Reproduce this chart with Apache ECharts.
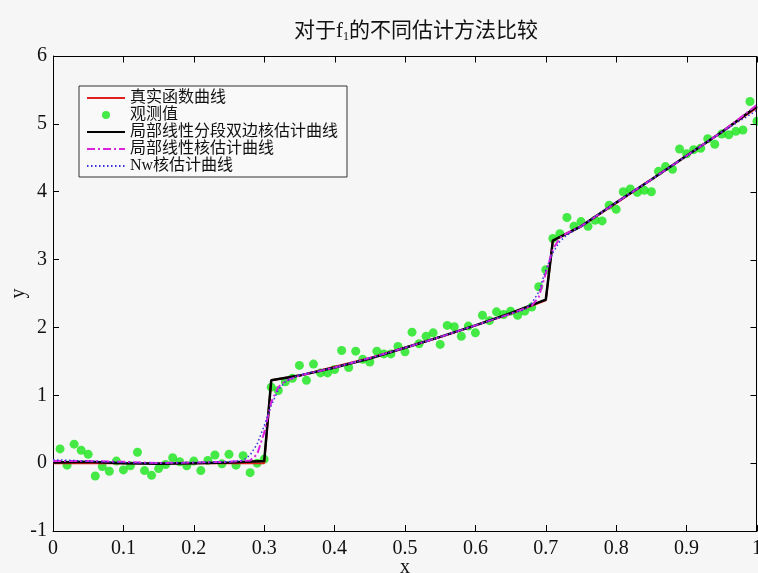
<!DOCTYPE html>
<html>
<head>
<meta charset="utf-8">
<script src="https://cdn.jsdelivr.net/npm/echarts@6/dist/echarts.min.js"></script>
<style>
  html, body { margin: 0; padding: 0; background: #f6f6f6; }
  #chart { width: 758px; height: 573px; }
</style>
</head>
<body>
<div id="chart"></div>
<script>
// Observation grid and noisy observations
const obsX = [0.01,0.02,0.03,0.04,0.05,0.06,0.07,0.08,0.09,0.10,
              0.11,0.12,0.13,0.14,0.15,0.16,0.17,0.18,0.19,0.20,
              0.21,0.22,0.23,0.24,0.25,0.26,0.27,0.28,0.29,0.30,
              0.31,0.32,0.33,0.34,0.35,0.36,0.37,0.38,0.39,0.40,
              0.41,0.42,0.43,0.44,0.45,0.46,0.47,0.48,0.49,0.50,
              0.51,0.52,0.53,0.54,0.55,0.56,0.57,0.58,0.59,0.60,
              0.61,0.62,0.63,0.64,0.65,0.66,0.67,0.68,0.69,0.70,
              0.71,0.72,0.73,0.74,0.75,0.76,0.77,0.78,0.79,0.80,
              0.81,0.82,0.83,0.84,0.85,0.86,0.87,0.88,0.89,0.90,
              0.91,0.92,0.93,0.94,0.95,0.96,0.97,0.98,0.99,1.00];
const obsY = [0.21,-0.03,0.28,0.19,0.13,-0.19,-0.05,-0.12,0.03,-0.10,
              -0.04,0.16,-0.11,-0.18,-0.08,-0.02,0.08,0.02,-0.04,0.03,
              -0.11,0.04,0.12,-0.01,0.13,-0.03,0.11,-0.14,0.00,0.06,
              1.12,1.07,1.20,1.25,1.44,1.22,1.46,1.33,1.33,1.38,
              1.66,1.41,1.65,1.53,1.49,1.65,1.61,1.61,1.72,1.64,
              1.93,1.76,1.87,1.92,1.75,2.03,2.01,1.87,2.02,1.92,
              2.18,2.10,2.23,2.19,2.24,2.18,2.24,2.30,2.60,2.85,
              3.31,3.38,3.62,3.49,3.56,3.49,3.58,3.57,3.80,3.74,
              4.00,4.04,3.99,4.02,4.00,4.30,4.37,4.33,4.63,4.56,
              4.62,4.64,4.78,4.70,4.85,4.84,4.89,4.91,5.33,5.04];

// True regression function
const trueX = [0,0.30,0.31,0.35,0.40,0.45,0.50,0.55,0.60,0.65,0.70,0.71,0.75,0.80,0.85,0.90,0.95,1.00];
const trueY = [0,0,1.22,1.29,1.42,1.55,1.70,1.86,2.03,2.20,2.40,3.28,3.49,3.83,4.18,4.53,4.88,5.24];

// Piecewise local linear two-sided kernel estimate
const bilX = [0,0.05,0.10,0.15,0.20,0.25,0.30,0.31,0.35,0.40,0.45,0.50,0.55,0.60,0.65,0.70,0.71,0.75,0.80,0.85,0.90,0.95,1.00];
const bilY = [0.01,0.02,0.00,-0.01,0.00,0.01,0.03,1.22,1.29,1.41,1.54,1.70,1.86,2.03,2.21,2.41,3.28,3.49,3.84,4.18,4.53,4.88,5.26];

// Local linear kernel estimate
const llX = [0,0.05,0.10,0.15,0.20,0.25,0.28,0.29,0.30,0.31,0.32,0.33,0.35,0.40,0.45,0.50,0.55,0.60,0.65,0.68,0.69,0.70,0.71,0.72,0.73,0.75,0.80,0.85,0.90,0.95,1.00];
const llY = [0.03,0.03,0.02,0.00,0.01,0.02,0.04,0.13,0.45,0.90,1.12,1.21,1.29,1.41,1.55,1.70,1.86,2.03,2.20,2.32,2.45,2.80,3.15,3.32,3.39,3.49,3.84,4.18,4.53,4.88,5.28];

// Nadaraya-Watson kernel estimate
const nwX = [0,0.05,0.10,0.15,0.20,0.25,0.27,0.28,0.29,0.30,0.31,0.32,0.33,0.34,0.35,0.40,0.45,0.50,0.55,0.60,0.65,0.67,0.68,0.69,0.70,0.71,0.72,0.73,0.75,0.80,0.85,0.90,0.95,1.00];
const nwY = [0.05,0.03,0.01,0.00,0.01,0.02,0.04,0.12,0.28,0.55,0.85,1.08,1.20,1.26,1.30,1.41,1.55,1.70,1.86,2.03,2.20,2.26,2.36,2.52,2.85,3.10,3.27,3.36,3.49,3.84,4.18,4.53,4.88,5.20];

// Tick positions of the axes
const xTicks = [0,0.1,0.2,0.3,0.4,0.5,0.6,0.7,0.8,0.9,1];
const yTicks = [-1,0,1,2,3,4,5,6];

const seriesNames = ['真实函数曲线','观测值','局部线性分段双边核估计曲线','局部线性核估计曲线','Nw核估计曲线'];
const titleMain = '对于f';
const titleSub = '1';
const titleRest = '的不同估计方法比较';

const pairs = (xs, ys) => xs.map((x, i) => [x, ys[i]]);
const FONT = "'Liberation Serif', 'Noto Sans CJK SC', serif";
const X_MIN = xTicks[0], X_MAX = xTicks[xTicks.length - 1];
const Y_MIN = yTicks[0], Y_MAX = yTicks[yTicks.length - 1];

const chart = echarts.init(document.getElementById('chart'), null, { renderer: 'canvas' });

function makeAxis(extra) {
  return Object.assign({
    type: 'value',
    show: true,
    axisLine: { show: true, onZero: false, lineStyle: { color: '#000', width: 1 } },
    axisTick: { show: true, inside: true, length: 6, lineStyle: { color: '#000' } },
    splitLine: { show: false }
  }, extra);
}

// line entries in the legend show only the stroke, no marker
const hiddenMarker = { opacity: 0 };

chart.setOption({
  backgroundColor: '#f6f6f6',
  animation: false,
  title: {
    text: '{a|' + titleMain + '}{s|' + titleSub + '}{a|' + titleRest + '}',
    left: 411,
    top: 14,
    textAlign: 'center',
    textStyle: {
      fontWeight: 'normal',
      rich: {
        a: { fontFamily: FONT, fontSize: 21, fontWeight: 'normal', color: '#111' },
        s: { fontFamily: FONT, fontSize: 12, fontWeight: 'normal', color: '#111', padding: [12, 0, 0, 0] }
      }
    }
  },
  grid: { left: 53, right: 1, top: 56, bottom: 42, containLabel: false, outerBoundsMode: 'none' },
  legend: {
    orient: 'vertical',
    left: 79,
    top: 86,
    padding: [4, 9, 3, 7],
    itemWidth: 38,
    itemHeight: 8,
    itemGap: 1,
    borderColor: '#333',
    borderWidth: 1,
    backgroundColor: '#f9f9f9',
    textStyle: { fontFamily: FONT, fontSize: 16, lineHeight: 16, color: '#111' },
    data: [
      { name: seriesNames[0], itemStyle: hiddenMarker },
      { name: seriesNames[1], icon: 'circle' },
      { name: seriesNames[2], itemStyle: hiddenMarker },
      { name: seriesNames[3], itemStyle: hiddenMarker },
      { name: seriesNames[4], itemStyle: hiddenMarker }
    ]
  },
  xAxis: makeAxis({
    position: 'bottom', min: X_MIN, max: X_MAX, interval: 0.1,
    name: 'x', nameLocation: 'middle', nameGap: 27, nameMoveOverlap: false,
    nameTextStyle: { fontFamily: FONT, fontSize: 20, color: '#111' },
    axisLabel: {
      fontFamily: FONT, fontSize: 20, color: '#111', margin: 8,
      formatter: v => String(Math.round(v * 10) / 10)
    }
  }),
  yAxis: makeAxis({
    position: 'left', min: Y_MIN, max: Y_MAX, interval: 1,
    name: 'y', nameLocation: 'middle', nameGap: 24, nameRotate: 90, nameMoveOverlap: false,
    nameTextStyle: { fontFamily: FONT, fontSize: 20, color: '#111' },
    axisLabel: { fontFamily: FONT, fontSize: 20, color: '#111', margin: 6 }
  }),
  series: [
    {
      name: seriesNames[0], type: 'line', data: pairs(trueX, trueY),
      showSymbol: false, symbol: 'none',
      lineStyle: { color: '#e0201e', width: 2 }, itemStyle: { color: '#e0201e' }
    },
    {
      name: seriesNames[1], type: 'scatter', data: pairs(obsX, obsY),
      symbol: 'circle', symbolSize: 9,
      itemStyle: { color: '#19e619' }
    },
    {
      name: seriesNames[2], type: 'line', data: pairs(bilX, bilY),
      showSymbol: false, symbol: 'none',
      lineStyle: { color: '#000', width: 2.5 }, itemStyle: { color: '#000' }
    },
    {
      name: seriesNames[3], type: 'line', data: pairs(llX, llY),
      showSymbol: false, symbol: 'none',
      lineStyle: { color: '#dd22dd', width: 2, type: [8, 3, 2, 3] }, itemStyle: { color: '#dd22dd' }
    },
    {
      name: seriesNames[4], type: 'line', data: pairs(nwX, nwY),
      showSymbol: false, symbol: 'none',
      lineStyle: { color: '#3535d8', width: 1.5, type: [1.5, 2.5] }, itemStyle: { color: '#3535d8' }
    }
  ]
});

// Axes box: top and right edges plus inward ticks on them,
// placed through the grid's own scales
(function drawAxesBox() {
  const toPx = (x, y) => chart.convertToPixel({ gridIndex: 0 }, [x, y]);
  const cornerTL = toPx(X_MIN, Y_MAX);
  const cornerBR = toPx(X_MAX, Y_MIN);
  const boxLeft = Math.round(cornerTL[0]);
  const boxTop = Math.round(cornerTL[1]) + 0.5;
  const boxRight = Math.round(cornerBR[0]) - 0.5;
  const boxBottom = Math.round(cornerBR[1]);
  const edgeStyle = { stroke: '#000', lineWidth: 1 };
  const parts = [
    { type: 'line', silent: true, z: 100, zlevel: 0,
      shape: { x1: boxLeft, y1: boxTop, x2: boxRight + 0.5, y2: boxTop }, style: edgeStyle },
    { type: 'line', silent: true, z: 100, zlevel: 0,
      shape: { x1: boxRight, y1: boxTop, x2: boxRight, y2: boxBottom }, style: edgeStyle }
  ];
  xTicks.forEach(v => {
    const px = Math.round(toPx(v, Y_MAX)[0]) + 0.5;
    parts.push({ type: 'line', silent: true, z: 100,
      shape: { x1: px, y1: boxTop, x2: px, y2: boxTop + 6 }, style: edgeStyle });
  });
  yTicks.forEach(v => {
    const py = Math.round(toPx(X_MAX, v)[1]) + 0.5;
    parts.push({ type: 'line', silent: true, z: 100,
      shape: { x1: boxRight, y1: py, x2: boxRight - 6, y2: py }, style: edgeStyle });
  });
  chart.setOption({ graphic: { elements: parts } });
})();
</script>
</body>
</html>
